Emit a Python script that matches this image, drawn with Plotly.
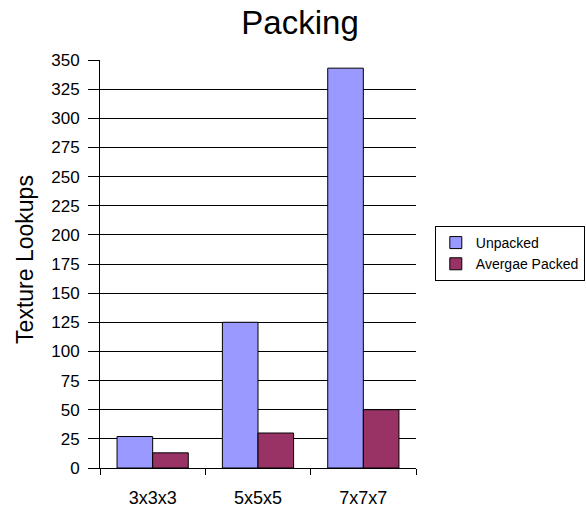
import plotly.graph_objects as go

categories = ["3x3x3", "5x5x5", "7x7x7"]
unpacked = [27, 125, 343]
avg_packed = [13, 30, 50]
y_ticks = list(range(0, 351, 25))

FONT = "Arial, Liberation Sans, sans-serif"

fig = go.Figure()
fig.add_trace(go.Bar(
    x=categories, y=unpacked, name="Unpacked",
    marker=dict(color="#9999ff", line=dict(color="black", width=1)),
))
fig.add_trace(go.Bar(
    x=categories, y=avg_packed, name="Avergae Packed",
    marker=dict(color="#993366", line=dict(color="black", width=1)),
))

fig.update_layout(
    width=586, height=508,
    margin=dict(l=100, r=170, t=60, b=40, autoexpand=False),
    paper_bgcolor="white", plot_bgcolor="white",
    font=dict(family=FONT, color="black", size=17),
    title=dict(text="Packing", x=0.512, xanchor="center", y=0.956, yanchor="middle",
               font=dict(size=33, color="black")),
    barmode="group", bargap=0.324, bargroupgap=0,
    showlegend=True,
    legend=dict(xref="container", yref="container",
                x=0.742, xanchor="left", y=0.501, yanchor="middle",
                bordercolor="black", borderwidth=1, bgcolor="white",
                font=dict(size=14), tracegroupgap=0, itemwidth=30),
    xaxis=dict(
        showline=True, linecolor="black", linewidth=1,
        ticks="outside", tickson="boundaries", ticklen=6, tickcolor="black",
        showgrid=False, tickfont=dict(size=18), ticklabelstandoff=13,
        automargin=False,
    ),
    yaxis=dict(
        range=[0, 350], tickvals=y_ticks,
        showline=True, linecolor="black", linewidth=1,
        ticks="outside", ticklen=11, tickcolor="black",
        showgrid=True, gridcolor="black", gridwidth=1,
        zeroline=False, tickfont=dict(size=17), ticklabelstandoff=5,
        automargin=False,
    ),
    annotations=[dict(
        text="Texture Lookups", textangle=-90,
        xref="paper", yref="paper", x=-0.238, y=0.512,
        xanchor="center", yanchor="middle", showarrow=False,
        font=dict(size=23, color="black"),
    )],
)

fig.write_html("out.html")
